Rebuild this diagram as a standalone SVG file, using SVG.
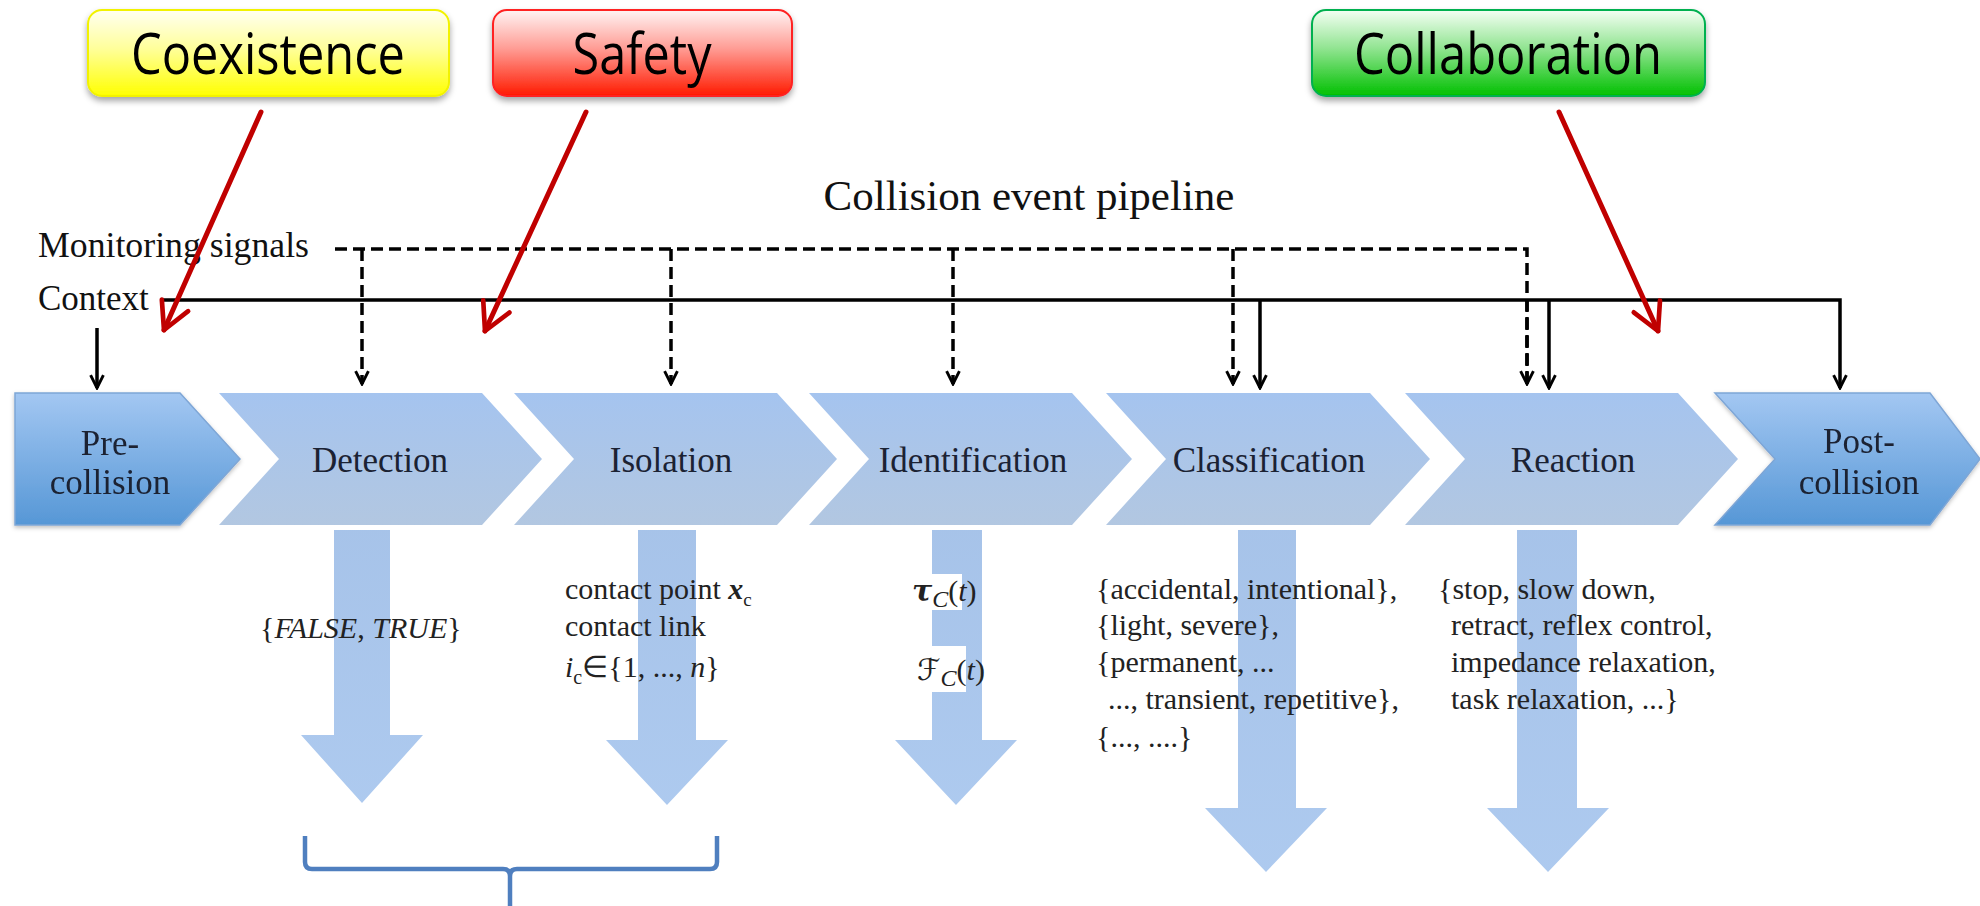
<svg xmlns="http://www.w3.org/2000/svg" width="1980" height="906" viewBox="0 0 1980 906">
<defs>
<linearGradient id="gY" x1="0" y1="0" x2="0" y2="1"><stop offset="0" stop-color="#FFFFF2"/><stop offset="0.45" stop-color="#FFFF9A"/><stop offset="1" stop-color="#FFFF00"/></linearGradient>
<linearGradient id="gR" x1="0" y1="0" x2="0" y2="1"><stop offset="0" stop-color="#FFF4F4"/><stop offset="0.45" stop-color="#FF9C94"/><stop offset="1" stop-color="#FF1A00"/></linearGradient>
<linearGradient id="gG" x1="0" y1="0" x2="0" y2="1"><stop offset="0" stop-color="#F4FFF4"/><stop offset="0.45" stop-color="#90E490"/><stop offset="1" stop-color="#00C000"/></linearGradient>
<linearGradient id="gLight" x1="0" y1="0" x2="0" y2="1"><stop offset="0" stop-color="#A5C4EF"/><stop offset="1" stop-color="#B2C7E1"/></linearGradient>
<linearGradient id="gDark" x1="0" y1="0" x2="0" y2="1"><stop offset="0" stop-color="#A3C7F2"/><stop offset="1" stop-color="#5697D6"/></linearGradient>
<linearGradient id="gDown" x1="0" y1="0" x2="0" y2="1"><stop offset="0" stop-color="#A2C0E8"/><stop offset="1" stop-color="#A9C7EE"/></linearGradient>
<filter id="sh" x="-10%" y="-20%" width="120%" height="150%"><feDropShadow dx="0" dy="4" stdDeviation="3" flood-color="#000" flood-opacity="0.35"/></filter>
<filter id="sh2" x="-10%" y="-10%" width="120%" height="130%"><feDropShadow dx="0" dy="2" stdDeviation="2" flood-color="#000" flood-opacity="0.25"/></filter>
<marker id="redhead" viewBox="0 0 20 20" refX="18" refY="10" markerWidth="36" markerHeight="36" markerUnits="userSpaceOnUse" orient="auto"><path d="M3,2 L18,10 L3,18" fill="none" stroke="#C00000" stroke-width="2.6" stroke-linecap="round" stroke-linejoin="round"/></marker>
<marker id="bhead" viewBox="0 0 10 10" refX="9" refY="5" markerWidth="16" markerHeight="16" markerUnits="userSpaceOnUse" orient="auto"><path d="M1,1 L9,5 L1,9" fill="none" stroke="#000" stroke-width="1.8" stroke-linejoin="miter"/></marker>
</defs>
<style>
.lbl{font-family:"Liberation Serif","Times New Roman",serif;font-size:35px;fill:#1B2233;text-anchor:middle}
.body{font-family:"Liberation Serif","Times New Roman",serif;font-size:30px;fill:#222}
.head{font-family:"Liberation Serif","Times New Roman",serif;fill:#111}
.box{font-family:"Open Sans","Liberation Sans",sans-serif;font-size:56px;fill:#000;text-anchor:middle}
.light{fill:url(#gLight)}
.dark{fill:url(#gDark);stroke:#7EA6D6;stroke-width:1.5}
.down{fill:url(#gDown);opacity:0.95}
.dash{fill:none;stroke:#000;stroke-width:3.5;stroke-dasharray:12 6}
.solid{fill:none;stroke:#000;stroke-width:3.5}
.red{fill:none;stroke:#C00000;stroke-width:5;stroke-linecap:round}
</style>
<rect width="1980" height="906" fill="#fff"/>

<g id="box-coexistence" filter="url(#sh)">
<rect x="88" y="10" width="361" height="86" rx="14" fill="url(#gY)" stroke="#F2F200" stroke-width="2"/>
<text class="box" x="268" y="74" textLength="274" lengthAdjust="spacingAndGlyphs">Coexistence</text>
</g>
<g id="box-safety" filter="url(#sh)">
<rect x="493" y="10" width="299" height="86" rx="14" fill="url(#gR)" stroke="#FF2020" stroke-width="2"/>
<text class="box" x="642" y="74" textLength="139" lengthAdjust="spacingAndGlyphs">Safety</text>
</g>
<g id="box-collaboration" filter="url(#sh)">
<rect x="1312" y="10" width="393" height="86" rx="14" fill="url(#gG)" stroke="#00B050" stroke-width="2"/>
<text class="box" x="1508" y="74" textLength="308" lengthAdjust="spacingAndGlyphs">Collaboration</text>
</g>

<text class="head" x="1029" y="210" font-size="43" text-anchor="middle">Collision event pipeline</text>
<text class="head" x="38" y="257" font-size="35" textLength="271" lengthAdjust="spacingAndGlyphs">Monitoring signals</text>
<text class="head" x="38" y="310" font-size="35">Context</text>

<g id="stage-pre" filter="url(#sh2)">
<polygon class="dark" points="15,393 180,393 240,459 180,525 15,525"/>
<text class="lbl" x="110" y="455">Pre-</text>
<text class="lbl" x="110" y="494">collision</text>
</g>
<g id="stage-detection">
<polygon class="light" points="219,393 482,393 542,459 482,525 219,525 279,459"/>
<text class="lbl" x="380" y="472">Detection</text>
</g>
<g id="stage-isolation">
<polygon class="light" points="514,393 777,393 837,459 777,525 514,525 574,459"/>
<text class="lbl" x="671" y="472">Isolation</text>
</g>
<g id="stage-identification">
<polygon class="light" points="809,393 1072,393 1132,459 1072,525 809,525 869,459"/>
<text class="lbl" x="973" y="472">Identification</text>
</g>
<g id="stage-classification">
<polygon class="light" points="1106,393 1370,393 1430,459 1370,525 1106,525 1166,459"/>
<text class="lbl" x="1269" y="472">Classification</text>
</g>
<g id="stage-reaction">
<polygon class="light" points="1405,393 1678,393 1738,459 1678,525 1405,525 1465,459"/>
<text class="lbl" x="1573" y="472">Reaction</text>
</g>
<g id="stage-post" filter="url(#sh2)">
<polygon class="dark" points="1715,393 1930,393 1980,459 1930,525 1715,525 1775,459"/>
<text class="lbl" x="1859" y="453">Post-</text>
<text class="lbl" x="1859" y="494">collision</text>
</g>

<g id="outputs">
<polygon class="down" points="334,530 390,530 390,735 423,735 362,803 301,735 334,735"/>
<polygon class="down" points="638,530 696,530 696,740 728,740 667,805 606,740 638,740"/>
<polygon class="down" points="932,530 982,530 982,740 1017,740 956,805 895,740 932,740"/>
<polygon class="down" points="1238,530 1296,530 1296,808 1327,808 1266,872 1205,808 1238,808"/>
<polygon class="down" points="1517,530 1577,530 1577,808 1609,808 1548,872 1487,808 1517,808"/>
</g>

<g id="out-detection">
<text class="body" x="260" y="638" fill="#333">{<tspan font-style="italic">FALSE</tspan>, <tspan font-style="italic">TRUE</tspan>}</text>
</g>
<g id="out-isolation">
<text class="body" x="565" y="599" font-size="29">contact point <tspan font-weight="bold" font-style="italic">x</tspan><tspan font-size="19" dy="7">c</tspan></text>
<text class="body" x="565" y="636" font-size="29">contact link</text>
<text class="body" x="565" y="677" font-size="31"><tspan font-style="italic">i</tspan><tspan font-size="20" dy="7">c</tspan><tspan dy="-7">∈{1, ..., </tspan><tspan font-style="italic">n</tspan>}</text>
</g>
<g id="out-identification">
<rect x="912" y="574" width="50" height="36" fill="#fff"/>
<text class="body" x="912" y="601" font-size="32"><tspan font-weight="bold" font-style="italic" font-family="DejaVu Serif, Liberation Serif, serif">τ</tspan><tspan font-style="italic" font-size="24" dy="6">C</tspan><tspan dy="-6">(</tspan><tspan font-style="italic">t</tspan>)</text>
<rect x="916" y="646" width="50" height="46" fill="#fff"/>
<text class="body" x="917" y="680" font-size="32"><tspan font-family="DejaVu Serif, DejaVu Sans, serif" font-size="30">ℱ</tspan><tspan font-style="italic" font-size="24" dy="6">C</tspan><tspan dy="-6">(</tspan><tspan font-style="italic">t</tspan>)</text>
</g>
<g id="out-classification">
<text class="body" x="1096" y="599">{accidental, intentional},</text>
<text class="body" x="1096" y="635">{light, severe},</text>
<text class="body" x="1096" y="672">{permanent, ...</text>
<text class="body" x="1108" y="709">..., transient, repetitive},</text>
<text class="body" x="1096" y="747">{..., ....}</text>
</g>
<g id="out-reaction">
<text class="body" x="1438" y="599">{stop, slow down,</text>
<text class="body" x="1451" y="635">retract, reflex control,</text>
<text class="body" x="1451" y="672">impedance relaxation,</text>
<text class="body" x="1451" y="709">task relaxation, ...}</text>
</g>

<g id="connectors">
<path class="dash" d="M335,249 H1527 V384" />
<path class="dash" d="M362,249 V384" marker-end="url(#bhead)"/>
<path class="dash" d="M671,249 V384" marker-end="url(#bhead)"/>
<path class="dash" d="M953,249 V384" marker-end="url(#bhead)"/>
<path class="dash" d="M1233,249 V384" marker-end="url(#bhead)"/>
<path class="dash" d="M1527,300 V384" marker-end="url(#bhead)"/>
<path class="solid" d="M162,300 H1840 V388" marker-end="url(#bhead)"/>
<path class="solid" d="M1260,300 V388" marker-end="url(#bhead)"/>
<path class="solid" d="M1549,300 V388" marker-end="url(#bhead)"/>
<path class="solid" d="M97,328 V388" marker-end="url(#bhead)"/>
<line class="red" x1="261" y1="112" x2="164" y2="330" marker-end="url(#redhead)"/>
<line class="red" x1="586" y1="112" x2="485" y2="331" marker-end="url(#redhead)"/>
<line class="red" x1="1559" y1="112" x2="1658" y2="331" marker-end="url(#redhead)"/>
</g>

<g id="bracket">
<path d="M305,836 V862 Q305,869 312,869 H503 Q510,869 510,876 V906 M510,876 Q510,869 517,869 H710 Q717,869 717,862 V836" fill="none" stroke="#4F7FBF" stroke-width="4.5"/>
</g>
</svg>
